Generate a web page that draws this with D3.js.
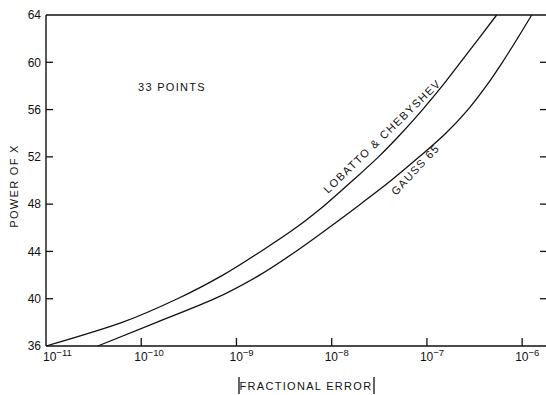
<!DOCTYPE html>
<html>
<head>
<meta charset="utf-8">
<script src="https://cdn.jsdelivr.net/npm/d3@7"></script>
<style>
  html, body { margin: 0; padding: 0; background: #fff; }
  svg { display: block; }
  text { font-family: "Liberation Sans", Arial, sans-serif; fill: #111; }
</style>
</head>
<body>
<script>
// ---- data ----
const powers = [36, 38, 40, 42, 44, 46, 48, 50, 52, 54, 56, 58, 60, 62, 64];
const lobattoError = [1.0e-11, 6.3e-11, 2.4e-10, 7.2e-10, 1.8e-9, 4.2e-9, 8.7e-9, 1.66e-8, 3.1e-8, 5.4e-8, 9.0e-8, 1.45e-7, 2.25e-7, 3.5e-7, 5.4e-7];
const gaussError   = [3.5e-11, 1.45e-10, 5.9e-10, 1.75e-9, 4.2e-9, 9.3e-9, 2.0e-8, 4.2e-8, 8.3e-8, 1.58e-7, 2.7e-7, 4.2e-7, 6.2e-7, 8.9e-7, 1.26e-6];
const xTickValues = [1e-11, 1e-10, 1e-9, 1e-8, 1e-7, 1e-6];
const xTickExponents = ["−11", "−10", "−9", "−8", "−7", "−6"];
const yTickValues = [36, 40, 44, 48, 52, 56, 60, 64];
const rightTickValues = [40, 44, 48, 52, 56, 60];
const seriesNames = ["LOBATTO & CHEBYSHEV", "GAUSS 65"];

const W = 546, H = 395;
const svg = d3.select("body").append("svg").attr("width", W).attr("height", H);

const x = d3.scaleLog().domain([1e-11, 1.78e-6]).range([46, 546]);
const y = d3.scaleLinear().domain([36, 64]).range([346, 15]);

const ink = "#111";

// frame lines: left, bottom, top
svg.append("line").attr("x1", 46).attr("x2", 46).attr("y1", y(64)).attr("y2", y(36)).attr("stroke", ink).attr("stroke-width", 1.4);
svg.append("line").attr("x1", 46).attr("x2", 546).attr("y1", y(36)).attr("y2", y(36)).attr("stroke", ink).attr("stroke-width", 1.3);
svg.append("line").attr("x1", 46).attr("x2", 546).attr("y1", y(64)).attr("y2", y(64)).attr("stroke", ink).attr("stroke-width", 1.3);

// left axis
const yAxis = d3.axisLeft(y).tickValues(yTickValues).tickSize(0).tickPadding(5).tickFormat(d3.format("d"));
const gy = svg.append("g").attr("transform", "translate(46,0)").call(yAxis);
gy.select(".domain").remove();
gy.selectAll("text").attr("font-size", 12).attr("font-family", "Liberation Sans, Arial, sans-serif").attr("fill", ink);
// inward ticks on left
svg.append("g").selectAll("line").data(yTickValues.filter(v => v > 36 && v < 64)).join("line")
  .attr("x1", 46).attr("x2", 53).attr("y1", d => y(d)).attr("y2", d => y(d))
  .attr("stroke", ink).attr("stroke-width", 1.3);

// right-side ticks (no axis line)
svg.append("g").selectAll("line").data(rightTickValues).join("line")
  .attr("x1", 540).attr("x2", 546).attr("y1", d => y(d)).attr("y2", d => y(d))
  .attr("stroke", ink).attr("stroke-width", 1.3);

// bottom ticks (inward)
svg.append("g").selectAll("line").data(xTickValues.slice(1)).join("line")
  .attr("x1", d => x(d)).attr("x2", d => x(d)).attr("y1", 346).attr("y2", 338)
  .attr("stroke", ink).attr("stroke-width", 1.3);

// bottom tick labels with superscripts
const xl = svg.append("g").selectAll("text").data(xTickValues).join("text")
  .attr("x", (d, i) => x(d) - (i === 0 ? 3 : 7)).attr("y", 361)
  .attr("font-size", 12);
xl.append("tspan").text("10");
xl.append("tspan").attr("dy", -5).attr("font-size", 9.5).text((d, i) => xTickExponents[i]);

// curves
const line = d3.line().x(d => x(d[0])).y(d => y(d[1])).curve(d3.curveMonotoneY);
const lobatto = powers.map((p, i) => [lobattoError[i], p]);
const gauss = powers.map((p, i) => [gaussError[i], p]);
svg.append("path").datum(lobatto).attr("d", line).attr("fill", "none").attr("stroke", ink).attr("stroke-width", 1.3);
svg.append("path").datum(gauss).attr("d", line).attr("fill", "none").attr("stroke", ink).attr("stroke-width", 1.3);

// curve labels
svg.append("text").attr("transform", "translate(328,194) rotate(-44)")
  .attr("font-size", 11).attr("letter-spacing", 1.4).text(seriesNames[0]);
svg.append("text").attr("transform", "translate(396,196) rotate(-47)")
  .attr("font-size", 11).attr("letter-spacing", 1.4).text(seriesNames[1]);

// annotation
svg.append("text").attr("x", 138).attr("y", 91).attr("font-size", 11).attr("letter-spacing", 1.3).text("33 POINTS");

// x-axis title with bars
svg.append("text").attr("x", 306).attr("y", 390).attr("text-anchor", "middle")
  .attr("font-size", 11).attr("letter-spacing", 1.3).text("FRACTIONAL ERROR");
svg.append("line").attr("x1", 239).attr("x2", 239).attr("y1", 377).attr("y2", 394).attr("stroke", ink).attr("stroke-width", 1.3);
svg.append("line").attr("x1", 374).attr("x2", 374).attr("y1", 377).attr("y2", 394).attr("stroke", ink).attr("stroke-width", 1.3);

// y-axis title
svg.append("text").attr("transform", "translate(18,186) rotate(-90)").attr("text-anchor", "middle")
  .attr("font-size", 11).attr("letter-spacing", 1.3).text("POWER OF X");
</script>
</body>
</html>
